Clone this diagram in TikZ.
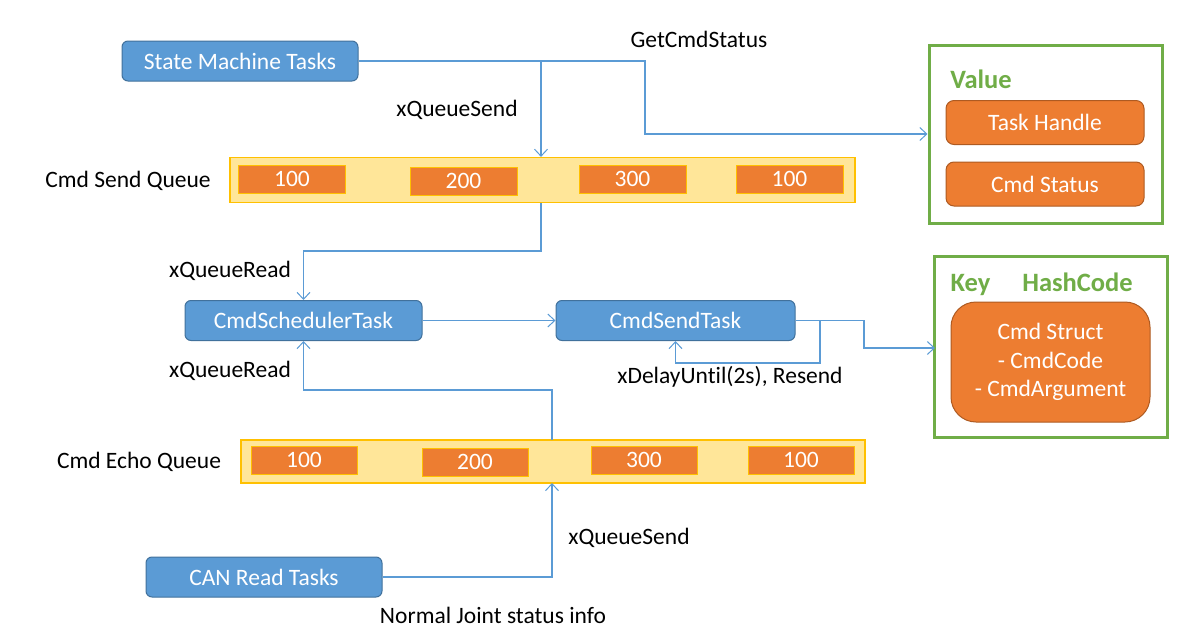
\documentclass[tikz,border=0pt]{standalone}
\usepackage{fontspec}
\setmainfont{Carlito}[Ligatures={NoCommon}]
\usetikzlibrary{arrows.meta}
\definecolor{bluef}{HTML}{5B9BD5}
\definecolor{blueb}{HTML}{41719C}
\definecolor{orf}{HTML}{ED7D31}
\definecolor{orb}{HTML}{AE5A21}
\definecolor{qf}{HTML}{FFE699}
\definecolor{qb}{HTML}{FFC000}
\definecolor{grn}{HTML}{70AD47}
\definecolor{lnk}{HTML}{5B9BD5}
\begin{document}
\begin{tikzpicture}[x=1pt,y=-1pt,
  every node/.style={font=\fontsize{23.5}{28.5}\selectfont, inner sep=0pt},
  taskbox/.style={draw=blueb, fill=bluef, line width=1pt, rounded corners=6pt, text=white, minimum width=#1, minimum height=40pt},
  queuebox/.style={draw=qb, fill=qf, line width=1.2pt, minimum height=45pt, minimum width=625pt},
  cellbox/.style={draw=qb, fill=orf, line width=1pt, text=white, minimum width=107pt, minimum height=28pt},
  valbox/.style={draw=orb, fill=orf, line width=1pt, rounded corners=8pt, text=white, minimum width=198pt, minimum height=44pt},
  greenbox/.style={draw=grn, line width=3pt, minimum width=233pt},
  grntxt/.style={text=grn, anchor=base, font=\fontsize{26.5}{30}\selectfont\bfseries},
  lbl/.style={text=black},
  link/.style={draw=lnk, line width=1.1pt},
  arr/.style={link, -{Straight Barb[length=7pt,width=13pt,line width=1pt]}}
]
\useasboundingbox (0,0) rectangle (1179,637);

% task boxes
\node[taskbox=236pt] (smt) at (240,61) {State Machine Tasks};
\node[taskbox=237pt] (sched) at (303.5,320.5) {CmdSchedulerTask};
\node[taskbox=239pt] (send) at (675.5,320.5) {CmdSendTask};
\node[taskbox=236pt] (can) at (264,577) {CAN Read Tasks};

% queues
\node[queuebox] (sq) at (542.5,180) {};
\node[lbl] (sqlbl) at (128,181) {Cmd Send Queue};
\node[cellbox] (s1) at (292,179) {100};
\node[cellbox] (s2) at (463.5,181) {200};
\node[cellbox] (s3) at (632.5,179) {300};
\node[cellbox] (s4) at (789.5,179) {100};

\node[queuebox, minimum height=43pt, minimum width=624pt] (eq) at (553,461.5) {};
\node[lbl] (eqlbl) at (139,462) {Cmd Echo Queue};
\node[cellbox, minimum width=106pt] (e1) at (304,460) {100};
\node[cellbox, minimum width=106pt] (e2) at (475,462) {200};
\node[cellbox, minimum width=106pt] (e3) at (644,460) {300};
\node[cellbox, minimum width=106pt] (e4) at (801,460) {100};

% value box
\node[greenbox, minimum height=178pt] (value) at (1045.5,134) {};
\node[grntxt] (valtxt) at (981,88) {Value};
\node[valbox] (th) at (1045,122.5) {Task Handle};
\node[valbox] (cs) at (1045,184) {Cmd Status};

% key box
\node[greenbox, minimum height=181pt] (key) at (1050.5,346.5) {};
\node[grntxt] (keytxt) at (970.5,291) {Key};
\node[grntxt] (hashtxt) at (1077.5,291) {HashCode};
\node[valbox, minimum width=199pt, minimum height=120pt, rounded corners=25pt, align=center] (cstruct) at (1050.5,362) {Cmd Struct\\- CmdCode\\- CmdArgument};

% labels
\node[lbl] (gcs) at (699,39) {GetCmdStatus};
\node[lbl] (xqs1) at (457,110) {xQueueSend};
\node[lbl] (xqr1) at (230,271) {xQueueRead};
\node[lbl] (xqr2) at (230,371) {xQueueRead};
\node[lbl] (xdl) at (730,377) {xDelayUntil(2s), Resend};
\node[lbl] (xqs2) at (629,538) {xQueueSend};
\node[lbl] (nji) at (493,615) {Normal Joint status info};

% coordinates
\coordinate (j1) at (541,61);
\coordinate (g1) at (645,61);
\coordinate (q1) at (541,203);
\coordinate (q2) at (541,251);
\coordinate (d1) at (820,320.5);
\coordinate (d2) at (820,363);
\coordinate (k1) at (864,320.5);
\coordinate (k2) at (864,348);
\coordinate (k3) at (935,348);
\coordinate (e0) at (552,440);
\coordinate (e5) at (552,390);
\coordinate (eb) at (552,483);

% connectors
\draw[link] (smt.east) -- (j1);
\draw[arr] (j1) -- (j1 |- sq.north);
\draw[arr] (j1) -- (g1) |- (value.west);
\draw[arr] (q1) -- (q2) -| (sched.north);
\draw[arr] (sched.east) -- (send.west);
\draw[arr] (send.east) -- (d1) -- (d2) -| (send.south);
\draw[arr] (d1) -- (k1) -- (k2) -- (k3);
\draw[arr] (e0) -- (e5) -| (sched.south);
\draw[arr] (can.east) -| (eb);
\end{tikzpicture}
\end{document}
